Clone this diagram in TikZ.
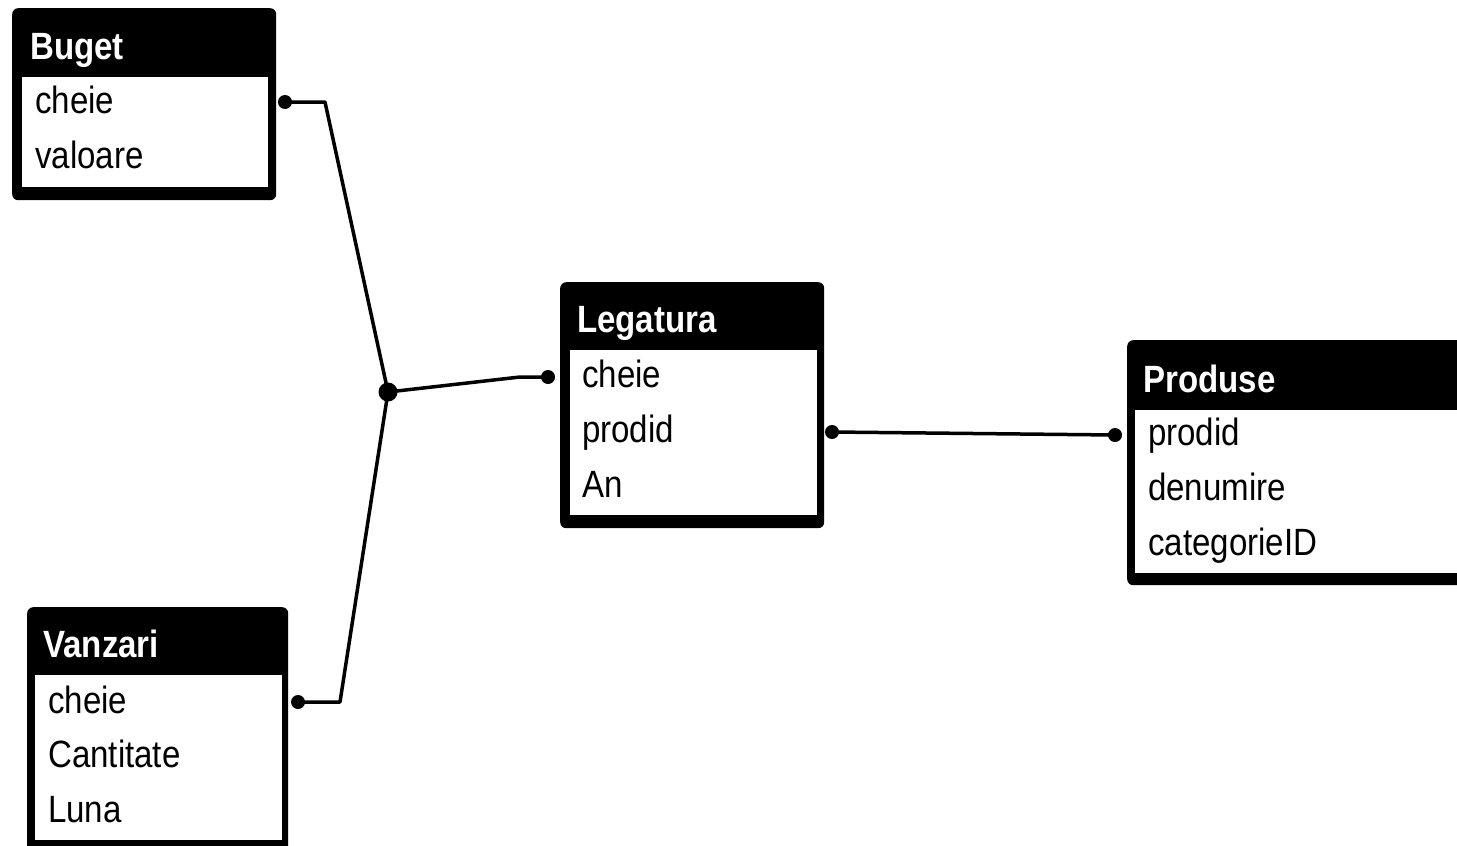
\documentclass[tikz,border=0pt]{standalone}
\usepackage{fontspec}
\newfontfamily\tblfont[FakeStretch=0.87]{Liberation Sans}
\begin{document}
\begin{tikzpicture}[x=1pt,y=-1pt,
  tblouter/.style={fill=black, draw=none, rounded corners=6pt, inner sep=0pt, anchor=north west},
  tblbody/.style={fill=white, draw=none, inner sep=0pt, anchor=north west},
  tblhead/.style={text=white, inner sep=0pt, anchor=base west, font=\tblfont\bfseries\fontsize{38}{42}\selectfont},
  tblfield/.style={text=black, inner sep=0pt, anchor=base west, font=\tblfont\fontsize{38}{42}\selectfont},
  enddot/.style={circle, fill=black, inner sep=0pt, minimum size=14pt},
  joindot/.style={circle, fill=black, inner sep=0pt, minimum size=19pt},
  link/.style={line width=3.5pt, line join=round}]
\clip (0,0) rectangle (1457,846);
\fill[white] (0,0) rectangle (1457,846);

% Buget
\node[tblouter, minimum width=264pt, minimum height=192pt] (buget) at (12,8) {};
\node[tblbody, minimum width=246pt, minimum height=110pt] (bugetbody) at (22,77) {};
\node[tblhead] (bugethead) at (30,59) {Buget};
\node[tblfield] (bugetcheie) at (35,113) {cheie};
\node[tblfield] (bugetvaloare) at (35,168) {valoare};

% Vanzari
\node[tblouter, minimum width=261pt, minimum height=260pt] (vanzari) at (27,607) {};
\node[tblbody, minimum width=247pt, minimum height=165pt] (vanzaribody) at (35,675) {};
\node[tblhead] (vanzarihead) at (43,657) {Vanzari};
\node[tblfield] (vanzaricheie) at (48,713) {cheie};
\node[tblfield] (vanzaricant) at (48,767) {Cantitate};
\node[tblfield] (vanzariluna) at (48,822) {Luna};

% Legatura
\node[tblouter, minimum width=264pt, minimum height=246pt] (legatura) at (560,282) {};
\node[tblbody, minimum width=247pt, minimum height=165pt] (legaturabody) at (570,350) {};
\node[tblhead] (legaturahead) at (577,332) {Legatura};
\node[tblfield] (legcheie) at (582,387) {cheie};
\node[tblfield] (legprodid) at (582,442) {prodid};
\node[tblfield] (legan) at (582,497) {An};

% Produse
\node[tblouter, minimum width=360pt, minimum height=245pt] (produse) at (1127,340) {};
\node[tblbody, minimum width=340pt, minimum height=163pt] (produsebody) at (1135,410) {};
\node[tblhead] (produsehead) at (1143,392) {Produse};
\node[tblfield] (prodprodid) at (1148,445) {prodid};
\node[tblfield] (proddenumire) at (1148,500) {denumire};
\node[tblfield] (prodcateg) at (1148,555) {categorieID};

% connectors
\node[enddot] (d1) at (285,102) {};
\node[enddot] (d2) at (298,702) {};
\node[joindot] (j) at (388,392) {};
\node[enddot] (d3) at (548,377) {};
\node[enddot] (d4) at (832,432) {};
\node[enddot] (d5) at (1115,435) {};
\coordinate (b1) at (325,102);
\coordinate (b2) at (340,702);
\coordinate (b3) at (520,377);

\draw[link] (d1.center) -- (b1) -- (j.center);
\draw[link] (d2.center) -- (b2) -- (j.center);
\draw[link] (j.center) -- (b3) -- (d3.center);
\draw[link] (d4.center) -- (d5.center);
\end{tikzpicture}
\end{document}
